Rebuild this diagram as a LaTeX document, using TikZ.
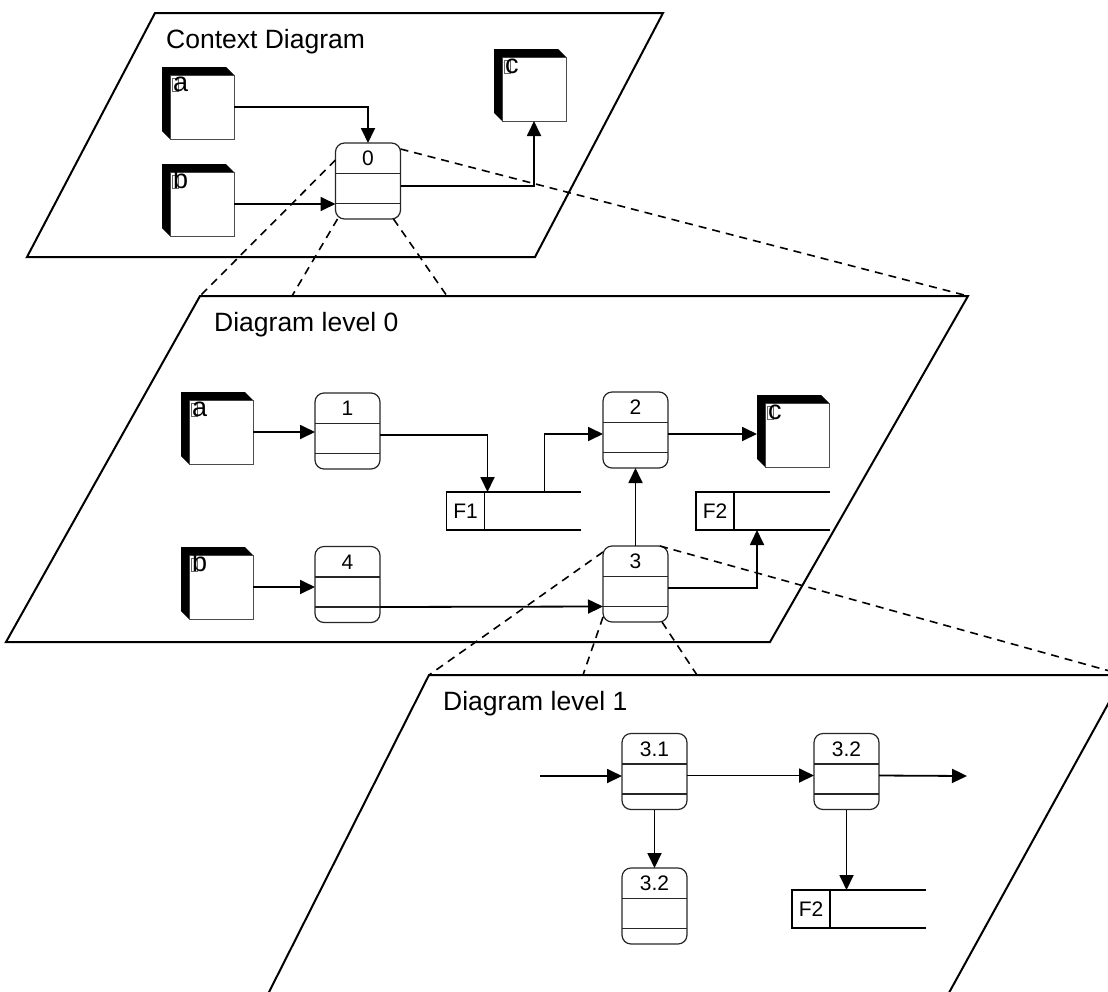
\documentclass[tikz,border=0pt]{standalone}
\usepackage{fontspec}
\setmainfont{Liberation Sans}
\usetikzlibrary{arrows.meta, calc}

\newcommand{\entitas}[4]{%
  \node[kubus] (#1) at (#2,#3) {};
  \fill (#1.north east) -- ++(-8,-8) -| ([shift={(-8,-8)}]#1.south west)
    -- (#1.south west) -- (#1.north west) -- cycle;
  \draw[black!60, line width=0.8pt] ([shift={(2,3)}]#1.north west) rectangle ++(6,13);
  \node[huruf] at ([shift={(3,16)}]#1.north west) {#4};
  \coordinate (#1-k) at ([xshift=-8pt]#1.west);
}
\newcommand{\proses}[4]{%
  \node[proses] (#1) at (#2,#3) {};
  \draw[tipis] ([yshift=-30.5pt]#1.north west) -- ([yshift=-30.5pt]#1.north east);
  \draw[tipis] ([yshift=-60.5pt]#1.north west) -- ([yshift=-60.5pt]#1.north east);
  \node[nomor] at ([yshift=-15.5pt]#1.north) {#4};
  \coordinate (#1-w) at ([yshift=-4pt]#1.west);
  \coordinate (#1-e) at ([yshift=-4pt]#1.east);
}
\newcommand{\arsip}[4]{%
  \node[arsip] (#1) at (#2,#3) {#4};
  \draw[garis] (#1.north west) -- ++(134,0);
  \draw[garis] (#1.south west) -- ++(134,0);
}

\begin{document}
\begin{tikzpicture}[x=1pt, y=-1pt,
    font=\fontsize{21}{25}\selectfont,
    bidang/.style={line width=2pt, line join=miter},
    judul/.style={anchor=base west, inner sep=0pt, font=\fontsize{26.5}{30}\selectfont},
    kubus/.style={draw=black!70, line width=1pt, fill=white, minimum width=64pt,
                  minimum height=64pt, inner sep=0pt, outer sep=0pt},
    huruf/.style={anchor=base west, inner sep=0pt, font=\fontsize{27}{30}\selectfont},
    proses/.style={draw=black!85, line width=1.2pt, rounded corners=9pt, minimum width=65pt,
                   minimum height=76pt, inner sep=0pt, outer sep=0pt},
    tipis/.style={draw=black!85, line width=1.2pt},
    nomor/.style={inner sep=0pt},
    arsip/.style={draw, line width=1.8pt, minimum width=38pt, minimum height=38pt,
                  inner sep=0pt, outer sep=0pt},
    garis/.style={line width=1.8pt},
    panah/.style={-{Triangle[length=15pt, width=14pt]}, line width=1.8pt},
    putus/.style={dash pattern=on 8pt off 6pt, line width=1.6pt}
  ]
    \useasboundingbox (0,0) rectangle (1108,991);
    \clip (0,0) rectangle (1108,991);

    % bidang tiap level
    \coordinate (m-kiri) at (200,296);
    \coordinate (m-kanan) at (968,296);
    \coordinate (m-a) at (292,296);
    \coordinate (m-b) at (447,296);
    \coordinate (b-kiri) at (429,675);
    \coordinate (b-kanan) at (1124,675);
    \coordinate (b-a) at (583,675);
    \coordinate (b-b) at (697,675);

    \draw[bidang] (155,13) -- (663,13) -- (535,257) -- (27,257) -- cycle;
    \draw[bidang] (m-kiri) -- (m-kanan) -- (770,642) -- (6,642) -- cycle;
    \draw[bidang] (b-kiri) -- (b-kanan) -- (945,1000) -- (265,1000) -- cycle;

    \node[judul] (t0) at (166,48) {Context Diagram};
    \node[judul] (t1) at (214,331) {Diagram level 0};
    \node[judul] (t2) at (443,710) {Diagram level 1};

    % context diagram
    \entitas{a0}{202}{107}{a}
    \entitas{b0}{202}{204}{b}
    \entitas{c0}{534}{89}{c}
    \proses{p0}{368}{181}{0}

    \draw[panah] (a0.east) -| (p0.north);
    \draw[panah] (b0.east) -- (b0.east -| p0.west);
    \draw[panah] ([yshift=-5pt]p0.east) -| (c0.south);

    % diagram level 0
    \entitas{a1}{221}{432}{a}
    \entitas{b1}{221}{587}{b}
    \entitas{c1}{797}{435}{c}
    \proses{p1}{347.5}{431}{1}
    \proses{p2}{635.5}{430}{2}
    \proses{p3}{635.5}{584}{3}
    \proses{p4}{347.5}{584.5}{4}
    \arsip{f1}{465.5}{511}{F1}
    \arsip{f2}{715}{511}{F2}

    \draw[panah] (a1.east) -- (a1.east -| p1.west);
    \draw[panah] (p1-e) -| ([xshift=3pt]f1.north east);
    \draw[panah] ([xshift=60pt]f1.north east) |- (p2-w);
    \draw[panah] (p2-e) -- (p2-e -| c1-k);
    \draw[panah] (p3.north) -- (p2.south);
    \draw[panah] (p3-e) -| ([xshift=23pt]f2.south east);
    \draw[panah] (b1.east) -- (b1.east -| p4.west);
    \draw[panah] ([yshift=-60.5pt]p4.north east) -- ([yshift=-60.5pt]p3.north west);

    % diagram level 1
    \coordinate (masuk) at (540,776);
    \coordinate (keluar) at (967,776);
    \proses{q1}{654.5}{771.5}{3.1}
    \proses{q2}{846.5}{771.5}{3.2}
    \proses{q3}{654.5}{906}{3.2}
    \arsip{f3}{811}{909}{F2}

    \draw[panah] (masuk) -- (masuk -| q1.west);
    \draw[panah] (q1-e) -- (q2-w);
    \draw[panah] (q2-e) -- (keluar);
    \draw[panah] (q1.south) -- (q3.north);
    \draw[panah] (q2.south) -- (q2.south |- f3.north);

    % garis rinci antar level
    \draw[putus] ([yshift=-17pt]p0.north west) -- (m-kiri);
    \draw[putus] ([yshift=-6pt]p0.north east) -- (m-kanan);
    \draw[putus] ([xshift=2pt]p0.south west) -- (m-a);
    \draw[putus] ([xshift=-7pt]p0.south east) -- (m-b);
    \draw[putus] ([yshift=-6pt]p3.north west) -- (b-kiri);
    \draw[putus] ([xshift=-8pt]p3.north east) -- (b-kanan);
    \draw[putus] ([yshift=5pt]p3.south west) -- (b-a);
    \draw[putus] ([xshift=-6pt]p3.south east) -- (b-b);
  \end{tikzpicture}
\end{document}
